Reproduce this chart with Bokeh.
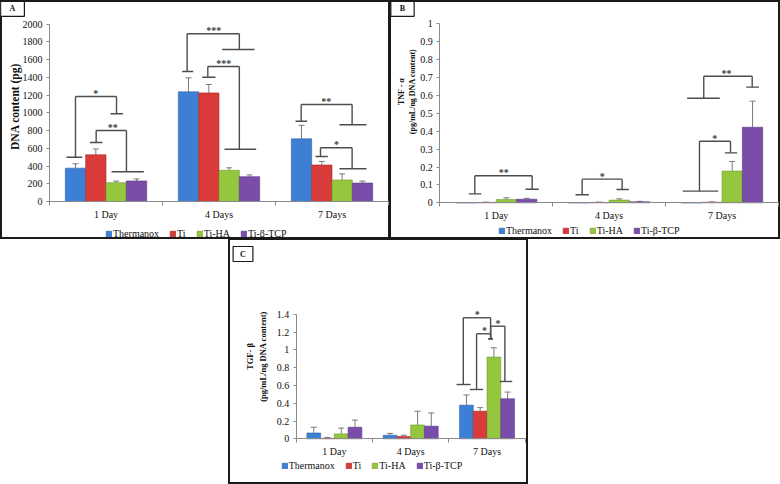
import math
from bokeh.plotting import figure
from bokeh.models import (Range1d, FixedTicker, NumeralTickFormatter, Legend, LegendItem,
                          Whisker, TeeHead, ColumnDataSource, LabelSet, Label, Spacer)
from bokeh.core.properties import value
from bokeh.layouts import column, row
from bokeh.embed import file_html
from bokeh.resources import INLINE

# ---------------- data ----------------
days = ["1 Day", "4 Days", "7 Days"]
groups = ["Thermanox", "Ti", "Ti-HA", "Ti-β-TCP"]

# A: DNA content (pg)
dna_thermanox = [376, 1237, 707]
dna_ti = [527, 1225, 412]
dna_tiha = [212, 352, 243]
dna_titcp = [232, 280, 208]
dna_err_thermanox = [50, 158, 152]
dna_err_ti = [65, 95, 40]
dna_err_tiha = [18, 28, 68]
dna_err_titcp = [22, 20, 22]
dna_ticks = [0, 200, 400, 600, 800, 1000, 1200, 1400, 1600, 1800, 2000]

# B: TNF-alpha (pg/mL/ng DNA content)
tnf_thermanox = [0.0, 0.0, 0.0]
tnf_ti = [0.002, 0.002, 0.003]
tnf_tiha = [0.018, 0.015, 0.177]
tnf_titcp = [0.02, 0.006, 0.422]
tnf_err_thermanox = [0.0, 0.0, 0.0]
tnf_err_ti = [0.002, 0.002, 0.002]
tnf_err_tiha = [0.01, 0.007, 0.054]
tnf_err_titcp = [0.005, 0.002, 0.146]
tnf_ticks = [0, 0.1, 0.2, 0.3, 0.4, 0.5, 0.6, 0.7, 0.8, 0.9, 1.0]

# C: TGF-beta (pg/mL/ng DNA content)
tgf_thermanox = [0.065, 0.04, 0.378]
tgf_ti = [0.005, 0.025, 0.31]
tgf_tiha = [0.055, 0.155, 0.918]
tgf_titcp = [0.13, 0.142, 0.45]
tgf_err_thermanox = [0.065, 0.02, 0.115]
tgf_err_ti = [0.01, 0.015, 0.04]
tgf_err_tiha = [0.065, 0.155, 0.105]
tgf_err_titcp = [0.08, 0.148, 0.075]
tgf_ticks = [0, 0.2, 0.4, 0.6, 0.8, 1.0, 1.2, 1.4]

# significance brackets: (label, x_left, x_right, y_top, y_left_end, y_right_end,
#                         left cap from, left cap to, right cap from, right cap to, label x)
dna_brackets = [
    ("*", 0.23, 0.593, 1185, 500, 990, 0.15, 0.29, 0.54, 0.65, 0.41),
    ("**", 0.413, 0.681, 801, 666, 335, 0.357, 0.469, 0.549, 0.835, 0.56),
    ("***", 1.218, 1.68, 1892, 1466, 1715, 1.174, 1.272, 1.528, 1.814, 1.454),
    ("***", 1.401, 1.68, 1523, 1402, 590, 1.351, 1.469, 1.549, 1.829, 1.543),
    ("**", 2.227, 2.678, 1094, 906, 865, 2.177, 2.28, 2.566, 2.805, 2.45),
    ("*", 2.398, 2.678, 606, 508, 369, 2.354, 2.463, 2.566, 2.805, 2.54),
]
tnf_brackets = [
    ("**", 0.31, 0.818, 0.151, 0.05, 0.076, 0.257, 0.369, 0.759, 0.877, 0.567),
    ("*", 1.261, 1.615, 0.132, 0.045, 0.074, 1.202, 1.32, 1.565, 1.674, 1.438),
    ("**", 2.338, 2.767, 0.707, 0.584, 0.646, 2.191, 2.48, 2.714, 2.826, 2.539),
    ("*", 2.3, 2.575, 0.344, 0.065, 0.279, 2.152, 2.466, 2.524, 2.634, 2.436),
]
tgf_brackets = [
    ("*", 2.189, 2.547, 1.36, 0.61, 1.124, 2.10, 2.285, 2.516, 2.577, 2.372),
    ("*", 2.363, 2.547, 1.18, 0.554, 1.124, 2.275, 2.45, 2.516, 2.577, 2.468),
    ("*", 2.547, 2.734, 1.265, 1.124, 0.644, 2.516, 2.577, 2.67, 2.83, 2.643),
]

# ---------------- style ----------------
FONT = "Liberation Serif"
FILLS = ["#3C7FD4", "#D93A3A", "#94C63E", "#7B4DAA"]
EDGES = ["#2C64AC", "#A92A2A", "#6F9A2C", "#5A3683"]
OFFSETS = [-0.27, -0.09, 0.09, 0.27]
BAR_W = 0.18
AXIS_C = "#8a8a8a"
BR_C = "#4d4d4d"
TXT_C = "#111111"


def panel(letter, series, errors, yticks, fmt, ylabel, ylabel_size, brackets,
          w, h, plot_box, letter_box, ylabel_xy, legend_xy, shadow):
    L, R, T, B = plot_box                      # data area inside the panel, in px
    n = len(days)
    ymax = yticks[-1]
    ppx = (R - L) / n
    ppy = (B - T) / ymax
    p = figure(width=w, height=h, title=None,
               x_range=Range1d(-L / ppx, n + (w - R) / ppx),
               y_range=Range1d(-(h - B) / ppy, ymax + T / ppy),
               output_backend="svg", toolbar_location=None,
               min_border_left=0, min_border_right=0, min_border_top=0, min_border_bottom=0)
    p.outline_line_color = None
    p.xgrid.visible = False
    p.ygrid.visible = False
    p.background_fill_color = None
    p.border_fill_color = None
    p.styles = {"box-shadow": shadow, "background-color": "white"}

    items = []
    for gi, (vals, errs) in enumerate(zip(series, errors)):
        xs = [d + 0.5 + OFFSETS[gi] for d in range(n)]
        src = ColumnDataSource(dict(x=xs, top=vals))
        r = p.vbar(x="x", top="top", width=BAR_W, source=src,
                   fill_color=FILLS[gi], line_color=EDGES[gi], line_width=0.6)
        items.append(LegendItem(label=groups[gi], renderers=[r]))
        ex = [x for x, e in zip(xs, errs) if e > 0]
        ey = [v for v, e in zip(vals, errs) if e > 0]
        eu = [v + e for v, e in zip(vals, errs) if e > 0]
        if ex:
            esrc = ColumnDataSource(dict(x=ex, lo=ey, up=eu))
            p.add_layout(Whisker(source=esrc, base="x", lower="lo", upper="up",
                                 dimension="height", line_color="#7a7a7a", line_width=1,
                                 upper_head=TeeHead(size=6, line_color="#7a7a7a", line_width=1),
                                 lower_head=None))

    # significance brackets
    x0, y0, x1, y1 = [], [], [], []
    for (lab, xl, xr, top, yl, yr, lc0, lc1, rc0, rc1, sx) in brackets:
        for seg in [(xl, top, xr, top), (xl, top, xl, yl), (xr, top, xr, yr),
                    (lc0, yl, lc1, yl), (rc0, yr, rc1, yr)]:
            x0.append(seg[0]); y0.append(seg[1]); x1.append(seg[2]); y1.append(seg[3])
    p.segment(x0=x0, y0=y0, x1=x1, y1=y1, line_color=BR_C, line_width=1.4)
    lsrc = ColumnDataSource(dict(x=[b[10] for b in brackets], y=[b[3] for b in brackets],
                                 t=[b[0] for b in brackets]))
    p.add_layout(LabelSet(x="x", y="y", text="t", source=lsrc, text_font=value(FONT),
                          text_font_size="10px", text_font_style="bold", text_color="#3a3a3a",
                          text_align="center", text_baseline="middle", y_offset=3))

    # axes (drawn at the data origin)
    xax = p.xaxis[0]
    xax.fixed_location = 0
    xax.bounds = (0, n)
    xax.ticker = FixedTicker(ticks=[d + 0.5 for d in range(n)], minor_ticks=list(range(n + 1)))
    xax.major_label_overrides = {d + 0.5: lab for d, lab in enumerate(days)}
    xax.axis_line_color = AXIS_C
    xax.major_tick_line_color = None
    xax.major_tick_out = 0
    xax.major_tick_in = 0
    xax.minor_tick_line_color = AXIS_C
    xax.minor_tick_out = 4
    xax.minor_tick_in = 0
    xax.major_label_standoff = 3
    xax.major_label_text_font = FONT
    xax.major_label_text_font_size = "10px"
    xax.major_label_text_color = TXT_C

    yax = p.yaxis[0]
    yax.fixed_location = 0
    yax.bounds = (0, ymax)
    yax.ticker = FixedTicker(ticks=yticks)
    yax.formatter = NumeralTickFormatter(format=fmt)
    yax.axis_line_color = AXIS_C
    yax.major_tick_line_color = AXIS_C
    yax.major_tick_out = 3
    yax.major_tick_in = 0
    yax.minor_tick_line_color = None
    yax.major_label_standoff = 4
    yax.major_label_text_font = FONT
    yax.major_label_text_font_size = "10px"
    yax.major_label_text_color = TXT_C

    # y axis title
    p.add_layout(Label(x=ylabel_xy[0], y=h - ylabel_xy[1], x_units="screen", y_units="screen",
                       text=ylabel, angle=math.pi / 2, text_font=FONT, text_font_style="bold",
                       text_font_size=ylabel_size, text_color=TXT_C, text_align="center",
                       text_baseline="middle", text_line_height=1.25))

    legend = Legend(items=items, orientation="horizontal",
                    location=(legend_xy[0], h - legend_xy[1]),
                    label_text_font=FONT, label_text_font_size="10px", label_text_color=TXT_C,
                    glyph_width=7, glyph_height=7, label_standoff=1, spacing=10,
                    padding=0, margin=0, border_line_color=None, background_fill_alpha=0,
                    label_width=0, label_height=7)
    p.add_layout(legend)

    bx, by, bpad = letter_box
    p.add_layout(Label(x=bx, y=h - by, x_units="screen", y_units="screen",
                       text=letter, text_font=FONT, text_font_style="bold", text_font_size="8px",
                       text_color=TXT_C, text_align="center", text_baseline="middle",
                       border_line_color="#1a1a1a", border_line_width=1.2,
                       background_fill_color="white",
                       padding=dict(left=bpad, right=bpad, top=3, bottom=3)))
    return p


SH_A = "inset 0 0 0 2px #1a1a1a"
SH_B = ("inset 0 2px 0 0 #1a1a1a, inset -2px 0 0 0 #1a1a1a, "
        "inset 0 -2px 0 0 #1a1a1a, inset 1px 0 0 0 #1a1a1a")
SH_C = ("inset 0 1px 0 0 #1a1a1a, inset -2px 0 0 0 #1a1a1a, "
        "inset 0 -2px 0 0 #1a1a1a, inset 2px 0 0 0 #1a1a1a")

pA = panel("A",
           [dna_thermanox, dna_ti, dna_tiha, dna_titcp],
           [dna_err_thermanox, dna_err_ti, dna_err_tiha, dna_err_titcp],
           dna_ticks, "0", "DNA content (pg)", "11.5px", dna_brackets,
           390, 239, (49, 388, 23.7, 201), (12, 8.3, 9), (14, 106), (105, 239), SH_A)
pB = panel("B",
           [tnf_thermanox, tnf_ti, tnf_tiha, tnf_titcp],
           [tnf_err_thermanox, tnf_err_ti, tnf_err_tiha, tnf_err_titcp],
           tnf_ticks, "0.[0]", "TNF - α\n(pg/mL/ng DNA content)", "8px", tnf_brackets,
           390, 239, (49.3, 388, 23.3, 202.3), (12, 8.3, 9), (16.5, 91), (108, 236), SH_B)
pC = panel("C",
           [tgf_thermanox, tgf_ti, tgf_tiha, tgf_titcp],
           [tgf_err_thermanox, tgf_err_ti, tgf_err_tiha, tgf_err_titcp],
           tgf_ticks, "0.[0]", "TGF- β\n(pg/mL/ng DNA content)", "8.5px", tgf_brackets,
           300, 245, (67.7, 296.7, 74.7, 199.3), (14.5, 14.5, 7), (28, 117), (52.7, 232), SH_C)

layout = column(row(pA, pB), row(Spacer(width=228, height=245), pC))

with open("out.html", "w", encoding="utf-8") as f:
    f.write(file_html(layout, INLINE, title="chart"))
